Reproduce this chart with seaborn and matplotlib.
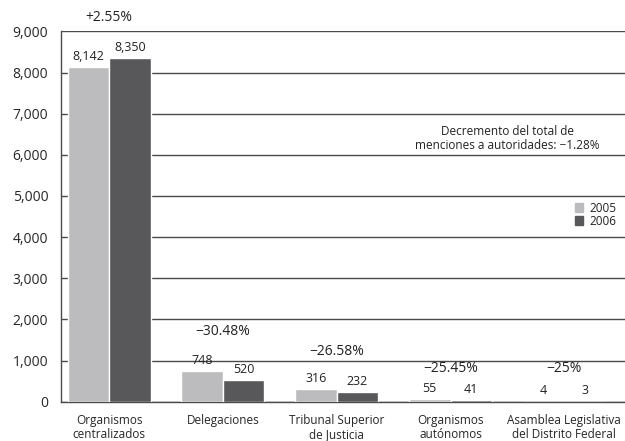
import pandas as pd
import matplotlib.pyplot as plt
import seaborn as sns

# Data
categorias = ['Organismos\ncentralizados', 'Delegaciones', 'Tribunal Superior\nde Justicia',
              'Organismos\nautónomos', 'Asamblea Legislativa\ndel Distrito Federal']
menciones_2005 = [8142, 748, 316, 55, 4]
menciones_2006 = [8350, 520, 232, 41, 3]
variacion = ['+2.55%', '\u221230.48%', '\u221226.58%', '\u221225.45%', '\u221225%']
variacion_y = [9330, 1700, 1215, 795, 795]
anios = ['2005', '2006']

LIGHT = '#bcbcbe'
DARK = '#58585a'
LINE = '#4a4a4a'

sns.set_style("white")
plt.rcParams['font.family'] = ['Open Sans', 'DejaVu Sans']
plt.rcParams['font.size'] = 9
plt.rcParams['text.color'] = '#222222'

df = pd.DataFrame({
    'categoria': categorias * 2,
    'menciones': menciones_2005 + menciones_2006,
    'anio': [anios[0]] * len(categorias) + [anios[1]] * len(categorias),
})

fig = plt.figure(figsize=(6.25, 4.41), dpi=100)
ax = fig.add_axes([0.0971, 0.0891, 0.9029, 0.8397])

sns.barplot(data=df, x='categoria', y='menciones', hue='anio', palette=[LIGHT, DARK],
            width=0.73, saturation=1, ax=ax, legend=False, zorder=3)

ax.set_xlim(-0.425, 4.533)
ax.set_ylim(0, 9000)
ax.set_yticks(range(0, 9001, 1000))
ax.set_yticklabels([f'{v:,}' for v in range(0, 9001, 1000)], fontsize=10)
ax.yaxis.grid(True, color=LINE, linewidth=1)
ax.set_axisbelow(True)
ax.tick_params(axis='y', length=6, color=LINE, width=1, pad=3)

# category labels at centers, tick marks at group boundaries
ax.set_xticks(range(len(categorias)))
ax.set_xticklabels(categorias, fontsize=8.5, linespacing=1.1)
ax.tick_params(axis='x', length=0, pad=9)
ax.set_xticks([-0.425, 0.5, 1.5, 2.5, 3.5], minor=True)
ax.tick_params(axis='x', which='minor', length=6, color=LINE, width=1)
ax.set_xlabel('')
ax.set_ylabel('')

for side in ['top', 'right']:
    ax.spines[side].set_visible(False)
for side in ['left', 'bottom']:
    ax.spines[side].set_color(LINE)
    ax.spines[side].set_linewidth(1)

# value labels above bars
for container in ax.containers:
    ax.bar_label(container, labels=[f'{b.get_height():,.0f}' for b in container],
                 padding=3, fontsize=9)

# percent change per group
for i, (txt, y) in enumerate(zip(variacion, variacion_y)):
    ax.text(i, y, txt, ha='center', va='center', fontsize=10, clip_on=False)

ax.text(3.50, 6080, 'Decremento del total de\nmenciones a autoridades: \u22121.28%',
        ha='center', va='bottom', fontsize=8.5, linespacing=1.1)

handles = [plt.Rectangle((0, 0), 1, 1, color=c) for c in [LIGHT, DARK]]
ax.legend(handles, anios, loc='center right', bbox_to_anchor=(0.995, 0.505), frameon=False,
          handlelength=0.7, handleheight=0.7, handletextpad=0.5, labelspacing=0.0, fontsize=8.5,
          borderpad=0)

fig.savefig('out.png', dpi=100)
